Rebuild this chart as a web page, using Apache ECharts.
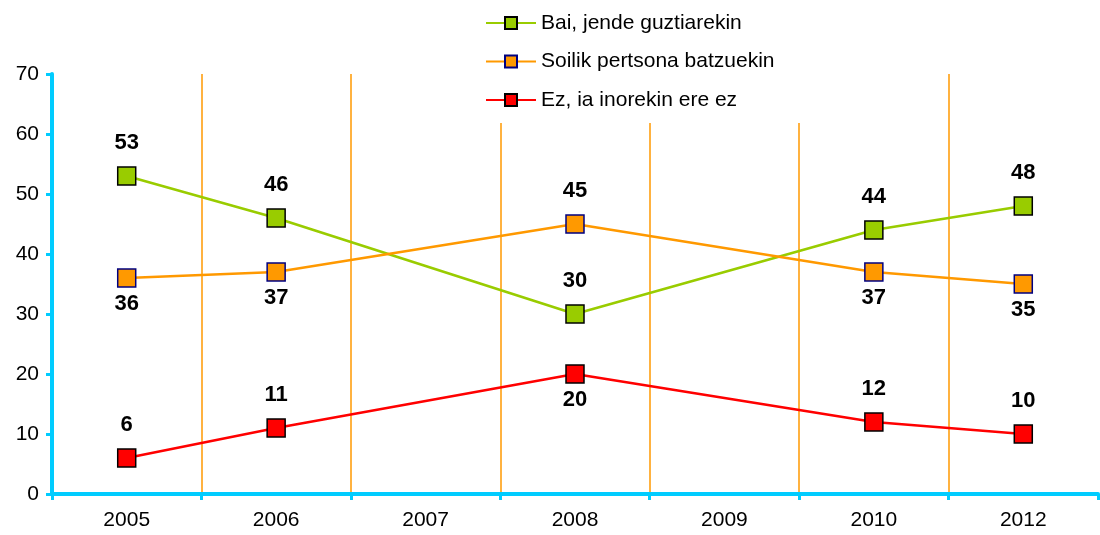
<!DOCTYPE html>
<html>
<head>
<meta charset="utf-8">
<script src="https://cdn.jsdelivr.net/npm/echarts@6/dist/echarts.min.js"></script>
<style>
  html, body { margin: 0; padding: 0; background: #fff; }
  #chart { width: 1100px; height: 535px; }
</style>
</head>
<body>
<div id="chart"></div>
<script>
// urteak eta datuak
const years = ['2005', '2006', '2007', '2008', '2009', '2010', '2012']
const baiData = [53, 46, null, 30, null, 44, 48]
const soilikData = [36, 37, null, 45, null, 37, 35]
const ezData = [6, 11, null, 20, null, 12, 10]
// etiketen kokapena puntu bakoitzean
const baiLabelPos = ['top', 'top', 'top', 'top', 'top', 'top', 'top']
const soilikLabelPos = ['bottom', 'bottom', 'bottom', 'top', 'bottom', 'bottom', 'bottom']
const ezLabelPos = ['top', 'top', 'top', 'bottom', 'top', 'top', 'top']

const font = 'Liberation Sans, Arial, sans-serif'
const chart = echarts.init(document.getElementById('chart'))

function makeData(values, positions) {
  return values.map((v, i) => ({
    value: v,
    label: { position: positions[i], distance: positions[i] === 'top' ? 12 : 5 }
  }))
}

function lineSeries(name, values, color, border, positions) {
  return {
    name: name,
    type: 'line',
    data: makeData(values, positions),
    connectNulls: true,
    symbol: 'rect',
    symbolSize: 18,
    lineStyle: { color: color, width: 2.7 },
    itemStyle: { color: color, borderColor: border, borderWidth: 1.5 },
    label: {
      show: true,
      fontFamily: font,
      fontSize: 22,
      fontWeight: 'bold',
      color: '#000'
    },
    emphasis: { disabled: true },
    animation: false
  }
}

const option = {
  legend: {
    orient: 'vertical',
    left: 480,
    top: 7,
    itemGap: 16.5,
    itemWidth: 50,
    itemHeight: 15,
    padding: [5, 36, 12, 5],
    backgroundColor: '#fff',
    z: 10,
    textStyle: {
      fontFamily: font,
      fontSize: 21,
      lineHeight: 22,
      color: '#000'
    },
    data: ['Bai, jende guztiarekin', 'Soilik pertsona batzuekin', 'Ez, ia inorekin ere ez']
  },
  grid: { left: 52, right: 2, top: 74, bottom: 41 },
  xAxis: {
    type: 'category',
    data: years,
    boundaryGap: true,
    axisLine: { lineStyle: { color: '#00ccff', width: 4 } },
    axisTick: { show: true, length: 6, lineStyle: { color: '#00ccff', width: 3 } },
    axisLabel: {
      color: '#000',
      fontFamily: font,
      fontSize: 21,
      margin: 16
    },
    splitLine: {
      show: true,
      showMinLine: false,
      showMaxLine: false,
      lineStyle: { color: '#ff9900', width: 1.5 }
    }
  },
  yAxis: {
    type: 'value',
    min: 0,
    max: 70,
    interval: 10,
    axisLine: { show: true, lineStyle: { color: '#00ccff', width: 4 } },
    axisTick: { show: true, length: 6, lineStyle: { color: '#00ccff', width: 3 } },
    axisLabel: {
      color: '#000',
      fontFamily: font,
      fontSize: 21,
      margin: 13
    },
    splitLine: { show: false }
  },
  series: [
    lineSeries('Bai, jende guztiarekin', baiData, '#99cc00', '#000', baiLabelPos),
    lineSeries('Soilik pertsona batzuekin', soilikData, '#ff9900', '#000080', soilikLabelPos),
    lineSeries('Ez, ia inorekin ere ez', ezData, '#ff0000', '#000', ezLabelPos)
  ]
}

chart.setOption(option)
</script>
</body>
</html>
